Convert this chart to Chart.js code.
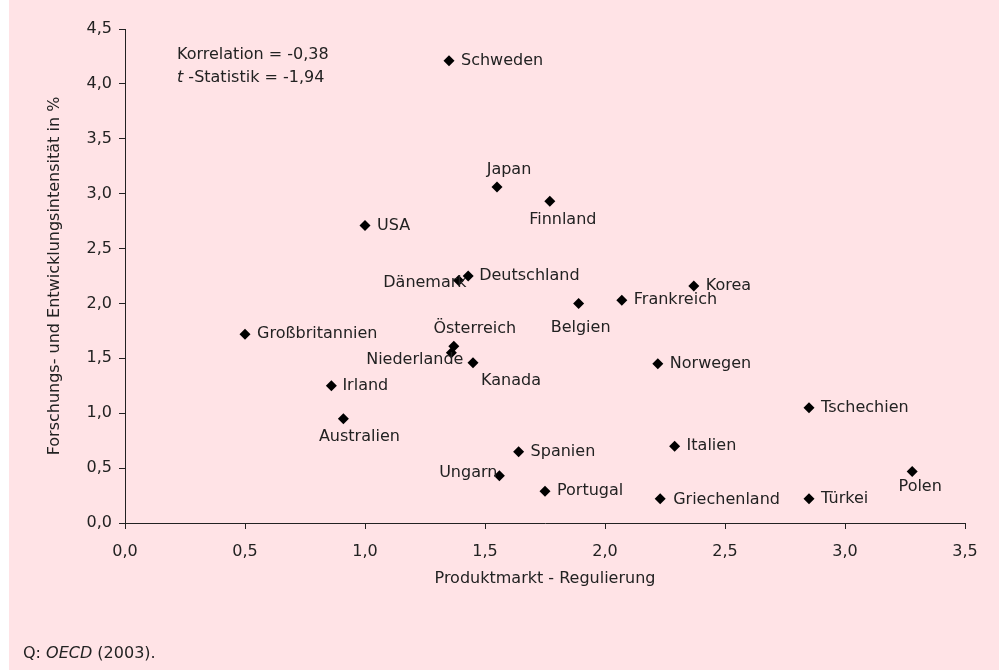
<!DOCTYPE html>
<html>
<head>
<meta charset="utf-8">
<script src="https://cdn.jsdelivr.net/npm/chart.js@4"></script>
<style>
    html, body { margin: 0; padding: 0; background: #ffffff; }
    #panel { position: absolute; left: 9px; top: 0; width: 990px; height: 670px; background: #ffe3e6; }
    #chart { position: absolute; left: 0; top: 0; }
    #source { position: absolute; left: 14px; top: 643px; font-family: 'DejaVu Sans', sans-serif; font-size: 16px; color: #222; line-height: 20px; }
</style>
</head>
<body>
<div id="panel">
    <canvas id="chart" width="990" height="670"></canvas>
    <div id="source">Q: <i>OECD</i> (2003).</div>
</div>
<script>
const countries = ['Schweden', 'Japan', 'Finnland', 'USA', 'Deutschland', 'Dänemark', 'Korea', 'Frankreich',
    'Belgien', 'Großbritannien', 'Österreich', 'Niederlande', 'Kanada', 'Norwegen', 'Irland', 'Australien',
    'Spanien', 'Ungarn', 'Portugal', 'Griechenland', 'Türkei', 'Tschechien', 'Italien', 'Polen'];
const regulation = [1.35, 1.55, 1.77, 1.0, 1.43, 1.39, 2.37, 2.07,
    1.89, 0.5, 1.37, 1.36, 1.45, 2.22, 0.86, 0.91,
    1.64, 1.56, 1.75, 2.23, 2.85, 2.85, 2.29, 3.28];
const rdIntensity = [4.21, 3.06, 2.93, 2.71, 2.25, 2.21, 2.16, 2.03,
    2.0, 1.72, 1.61, 1.55, 1.46, 1.45, 1.25, 0.95,
    0.65, 0.43, 0.29, 0.22, 0.22, 1.05, 0.70, 0.47];
// label placement next to each marker: [dx, dy, align]
const labelPlacement = [[12, 0, 'left'], [12, -17, 'center'], [13, 18, 'center'], [12, 0, 'left'],
    [11, 0, 'left'], [8, 2, 'right'], [12, 0, 'left'], [12, 0, 'left'],
    [2, 24, 'center'], [12, 0, 'left'], [21, -17, 'center'], [12, 7, 'right'],
    [38, 18, 'center'], [12, 0, 'left'], [11, 0, 'left'], [16, 18, 'center'],
    [12, 0, 'left'], [-2, -3, 'right'], [12, 0, 'left'], [13, 1, 'left'],
    [12, 0, 'left'], [12, 0, 'left'], [12, 0, 'left'], [8, 15, 'center']];
const xTitle = 'Produktmarkt - Regulierung';
const yTitle = 'Forschungs- und Entwicklungsintensität in %';
const correlation = '-0,38';
const tStatistic = '-1,94';

const FONT = "'DejaVu Sans', sans-serif";
const TEXT = '#222';
const points = regulation.map((x, i) => ({ x: x, y: rdIntensity[i] }));
const fmt = v => v.toFixed(1).replace('.', ',');

// country names + correlation note
const labelPlugin = {
    id: 'pointLabels',
    afterDatasetsDraw(chart) {
        const ctx = chart.ctx;
        const meta = chart.getDatasetMeta(0);
        ctx.save();
        ctx.font = '16px ' + FONT;
        ctx.fillStyle = TEXT;
        ctx.textBaseline = 'middle';
        meta.data.forEach((pt, i) => {
            const [dx, dy, align] = labelPlacement[i];
            ctx.textAlign = align;
            ctx.fillText(countries[i], pt.x + dx, pt.y + dy);
        });

        ctx.textAlign = 'left';
        ctx.fillText('Korrelation = ' + correlation, 168, 55);
        ctx.font = 'italic 16px ' + FONT;
        ctx.fillText('t', 168, 78);
        const w = ctx.measureText('t').width;
        ctx.font = '16px ' + FONT;
        ctx.fillText(' -Statistik = ' + tStatistic, 168 + w, 78);
        ctx.restore();
    }
};

new Chart(document.getElementById('chart'), {
    type: 'scatter',
    data: {
        datasets: [{
            data: points,
            pointStyle: 'rectRot',
            pointRadius: 5.5,
            pointHoverRadius: 5.5,
            backgroundColor: '#000',
            borderColor: '#000',
            borderWidth: 0
        }]
    },
    options: {
        responsive: false,
        animation: false,
        layout: { padding: { left: 32, right: 34, top: 29, bottom: 78 } },
        plugins: { legend: { display: false }, tooltip: { enabled: false } },
        scales: {
            x: {
                type: 'linear',
                min: 0, max: 3.5,
                afterFit: s => { s.height = 69; },
                border: { display: true, color: '#222', width: 1 },
                grid: { display: true, drawOnChartArea: false, drawTicks: true, tickLength: 6, color: '#222' },
                ticks: { stepSize: 0.5, padding: 13, color: TEXT, font: { family: FONT, size: 16 }, callback: v => fmt(v) },
                title: { display: true, text: xTitle, color: TEXT, font: { family: FONT, size: 16 }, padding: { top: 4, bottom: 4 } }
            },
            y: {
                type: 'linear',
                min: 0, max: 4.5,
                afterFit: s => { s.width = 84; },
                border: { display: true, color: '#222', width: 1 },
                grid: { display: true, drawOnChartArea: false, drawTicks: true, tickLength: 6, color: '#222' },
                ticks: { stepSize: 0.5, padding: 7, color: TEXT, font: { family: FONT, size: 16 }, callback: v => fmt(v) },
                title: { display: true, text: yTitle, color: TEXT, font: { family: FONT, size: 16 }, padding: { top: 4, bottom: 4 } }
            }
        }
    },
    plugins: [labelPlugin]
});
</script>
</body>
</html>
